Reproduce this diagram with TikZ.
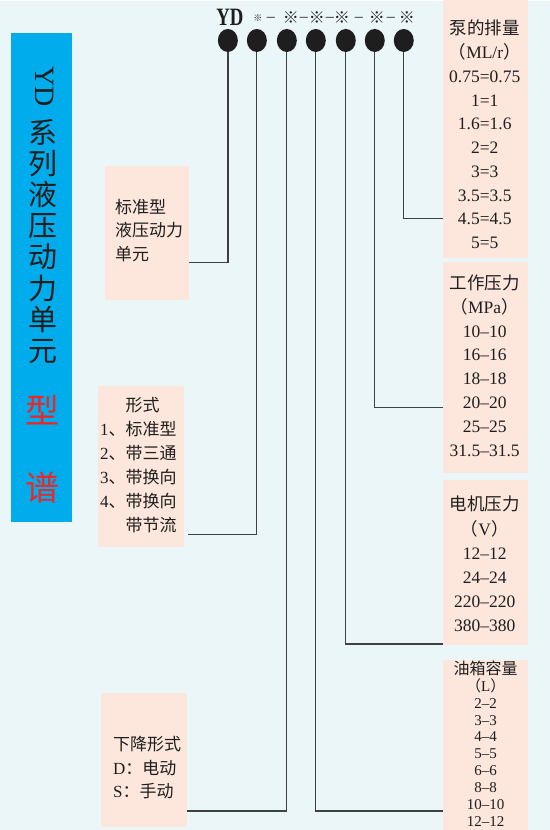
\documentclass[tikz,border=0pt]{standalone}
\usepackage{graphicx}
\usepackage{fontspec}
\setmainfont{Liberation Serif}
\newfontfamily\cjk{Noto Sans CJK SC}
\usetikzlibrary{shapes.geometric,positioning}
\definecolor{paper}{RGB}{235,246,249}
\definecolor{peach}{RGB}{253,231,221}
\definecolor{band}{RGB}{0,172,236}
\definecolor{ink}{RGB}{30,30,30}
\definecolor{stamp}{RGB}{235,40,40}

\begin{document}
\begin{tikzpicture}[x=1pt,y=-1pt,
    every node/.style={text=ink, inner sep=0pt},
    dot/.style={ellipse, fill=ink, minimum width=20pt, minimum height=23pt},
    box/.style={fill=peach},
    wire/.style={draw=black!75, line width=1.3pt},
    codemark/.style={font=\cjk\bfseries\fontsize{16}{16}\selectfont},
    hyph/.style={font=\fontsize{16}{16}\selectfont},
    items/.style={align=center, font=\fontsize{17.5}{24}\selectfont},
    notes/.style={align=left, anchor=west, font=\fontsize{17}{24}\selectfont}]
    \fill[paper] (0,0) rectangle (550,830);

    % title band
    \node[fill=band, minimum width=61pt, minimum height=489pt] (band) at (41.5,277.5) {};
    \node[rotate=-90, font=\fontsize{28}{28}\selectfont] (yd) at (45,86) {YD};
    \node[align=center, font=\cjk\fontsize{29}{31.2}\selectfont] (series) at (43,241) {系\\列\\液\\压\\动\\力\\单\\元};
    \node[text=stamp, font=\cjk\fontsize{34}{34}\selectfont] (xing) at (43,410) {型};
    \node[text=stamp, font=\cjk\fontsize{34}{34}\selectfont] (pu) at (43,487) {谱};

    % model code
    \node[font=\bfseries\fontsize{25}{25}\selectfont] (code) at (230,17) {\scalebox{0.75}[1]{YD}};
    \node[font=\cjk\bfseries\fontsize{9}{9}\selectfont] (m1) at (258,18) {※};
    \node[hyph] (h1) at (271,19) {--};
    \node[codemark] (m2) at (291,17) {※};
    \node[hyph] (h2) at (304,19) {--};
    \node[codemark] (m3) at (317,17) {※};
    \node[hyph] (h3) at (330,19) {--};
    \node[codemark] (m4) at (342,17) {※};
    \node[hyph] (h4) at (359,19) {--};
    \node[codemark] (m5) at (377,17) {※};
    \node[hyph] (h5) at (391,19) {--};
    \node[codemark] (m6) at (407,17) {※};

    \node[dot] (d1) at (228,40) {};
    \node[dot] (d2) at (257,40) {};
    \node[dot] (d3) at (287,40) {};
    \node[dot] (d4) at (316,40) {};
    \node[dot] (d5) at (346,40) {};
    \node[dot] (d6) at (375,40) {};
    \node[dot] (d7) at (404,40) {};

    % left boxes
    \node[box, minimum width=84pt, minimum height=134pt] (b1) at (147,233) {};
    \node[notes, font=\cjk\fontsize{17}{23.6}\selectfont] (t1) at (115,230) {标准型\\液压动力\\单元};
    \node[box, minimum width=86pt, minimum height=161pt] (b2) at (141,466.5) {};
    \node[notes, font=\fontsize{17}{23.9}\selectfont] (t2) at (100,465) {\hphantom{1{\cjk 、}}{\cjk 形式}\\1{\cjk 、标准型}\\2{\cjk 、带三通}\\3{\cjk 、带换向}\\4{\cjk 、带换向}\\\hphantom{4{\cjk 、}}{\cjk 带节流}};
    \node[box, minimum width=86pt, minimum height=134pt] (b3) at (144,760) {};
    \node[notes] (t3) at (113,767.5) {{\cjk 下降形式}\\D{\cjk ：电动}\\S{\cjk ：手动}};

    % right boxes
    \node[box, minimum width=85pt, minimum height=258pt] (pump) at (485.5,128.5) {};
    \node[items, font=\fontsize{17.5}{23.8}\selectfont] (pumptxt) at (485,134) {{\cjk 泵的排量}\\{\cjk （}ML/r{\cjk ）}\\0.75=0.75\\1=1\\1.6=1.6\\2=2\\3=3\\3.5=3.5\\4.5=4.5\\5=5};
    \node[box, minimum width=85pt, minimum height=211pt] (press) at (485.5,367.5) {};
    \node[items] (presstxt) at (485,365.5) {{\cjk 工作压力}\\{\cjk （}MPa{\cjk ）}\\10--10\\16--16\\18--18\\20--20\\25--25\\31.5--31.5};
    \node[box, minimum width=85pt, minimum height=165pt] (motor) at (485.5,562.5) {};
    \node[items, font=\fontsize{17.5}{24.2}\selectfont] (motortxt) at (485,564) {{\cjk 电机压力}\\{\cjk （}V{\cjk ）}\\12--12\\24--24\\220--220\\380--380};
    \node[box, minimum width=85pt, minimum height=170pt] (oil) at (485.5,745) {};
    \node[items, font=\fontsize{15}{16.9}\selectfont] (oiltxt) at (486,743.5) {{\cjk\fontsize{16}{16.9}\selectfont 油箱容量}\\{\cjk （}L{\cjk ）}\\2--2\\3--3\\4--4\\5--5\\6--6\\8--8\\10--10\\12--12};

    % connectors
    \coordinate (k1) at (189,262);
    \coordinate (k2) at (188,534);
    \coordinate (k3) at (187,811);
    \coordinate (k4) at (443,811);
    \coordinate (k5) at (443,644);
    \coordinate (k6) at (443,407);
    \coordinate (k7) at (443,218);
    \draw[wire] (d1.south) |- (k1);
    \draw[wire] (d2.south) |- (k2);
    \draw[wire] (d3.south) |- (k3);
    \draw[wire] (d4.south) |- (k4);
    \draw[wire] (d5.south) |- (k5);
    \draw[wire] (d6.south) |- (k6);
    \draw[wire] (d7.south) |- (k7);
\end{tikzpicture}
\end{document}
